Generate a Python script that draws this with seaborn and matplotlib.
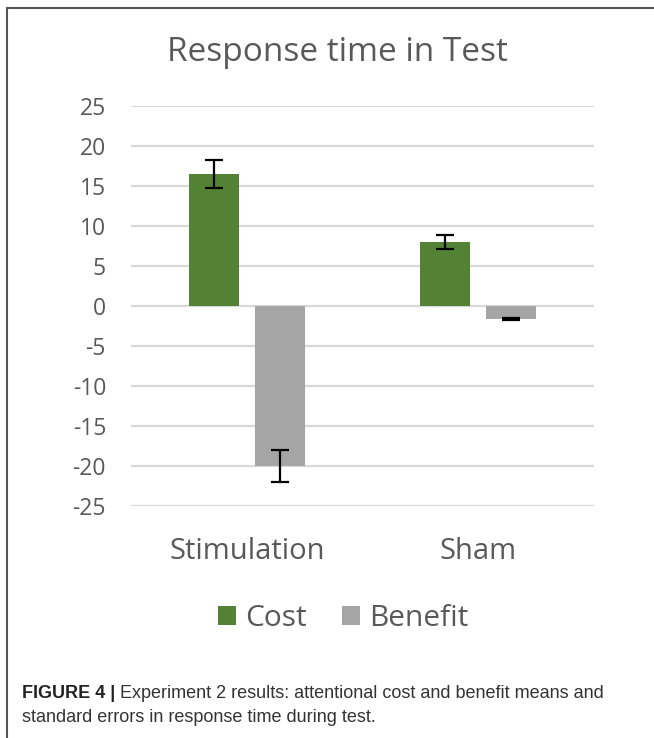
import matplotlib
matplotlib.use("Agg")
import matplotlib.pyplot as plt
from matplotlib.lines import Line2D
from matplotlib.patches import Patch
import seaborn as sns
import pandas as pd

categories = ["Stimulation", "Sham"]
series = ["Cost", "Benefit"]
cost_values = [16.5, 8.0]
benefit_values = [-20.0, -1.6]
cost_errors = [1.75, 0.85]
benefit_errors = [2.05, 0.1]
y_ticks = [25, 20, 15, 10, 5, 0, -5, -10, -15, -20, -25]
title_text = "Response time in Test"
caption_bold = "FIGURE 4 |"
caption_line1 = " Experiment 2 results: attentional cost and benefit means and"
caption_line2 = "standard errors in response time during test."

colors = {"Cost": "#548235", "Benefit": "#a5a5a5"}
text_color = "#595959"

df = pd.DataFrame({
    "group": categories * 2,
    "series": ["Cost"] * len(categories) + ["Benefit"] * len(categories),
    "value": cost_values + benefit_values,
})

sns.set_theme(style="white")
plt.rcParams["font.family"] = ["Open Sans", "DejaVu Sans"]
plt.rcParams["axes.unicode_minus"] = False

W, H = 654, 738
fig = plt.figure(figsize=(W / 100, H / 100), dpi=100)
fig.patch.set_facecolor("white")
ax = fig.add_axes([131 / W, 1 - 506 / H, 463 / W, 400 / H])

sns.barplot(data=df, x="group", y="value", hue="series", order=categories,
            hue_order=series, palette=colors, width=0.57, gap=0.245,
            errorbar=None, legend=False, ax=ax, saturation=1, linewidth=0)

errs = {"Cost": cost_errors, "Benefit": benefit_errors}
for cont, s in zip(ax.containers, series):
    xs = [p.get_x() + p.get_width() / 2 for p in cont.patches]
    ys = [p.get_y() + p.get_height() for p in cont.patches]
    ax.errorbar(xs, ys, yerr=errs[s], fmt="none", ecolor="black",
                elinewidth=1.6, capsize=6.5, capthick=1.6, zorder=5)

ax.set_ylim(-25, 25)
ax.set_yticks(y_ticks)
ax.set_xlim(-0.5, 1.5)
ax.yaxis.grid(True, color="#d9d9d9", linewidth=1.6)
ax.set_axisbelow(True)
for sp in ax.spines.values():
    sp.set_visible(False)
ax.set_xlabel("")
ax.set_ylabel("")
ax.tick_params(axis="y", length=0, pad=18, labelsize=16.5, labelcolor=text_color)
ax.tick_params(axis="x", length=0, pad=22, labelsize=21, labelcolor=text_color)

handles = [Patch(facecolor=colors[s], edgecolor="none", label=s) for s in series]
fig.legend(handles=handles, loc="center", bbox_to_anchor=(343 / W, 1 - 619 / H),
           ncol=2, frameon=False, fontsize=21.5, handlelength=0.6, handleheight=0.6,
           handletextpad=0.3, columnspacing=1.2, labelcolor=text_color)

fig.text(337 / W, 1 - 61 / H, title_text, ha="center", va="baseline",
         fontsize=24, color=text_color)

# caption
cap_fam = ["Liberation Sans", "DejaVu Sans"]
t1 = fig.text(22 / W, 1 - 694 / H, caption_bold, ha="left", va="center",
              fontsize=13, fontweight="bold", color="#222222", family=cap_fam)
fig.canvas.draw()
bb = t1.get_window_extent(renderer=fig.canvas.get_renderer())
fig.text(bb.x1 / W, 1 - 694 / H, caption_line1, ha="left", va="center",
         fontsize=13, color="#333333", family=cap_fam)
fig.text(22 / W, 1 - 718 / H, caption_line2, ha="left", va="center",
         fontsize=13, color="#333333", family=cap_fam)

# frame
fig.add_artist(Line2D([7 / W, 7 / W], [0, 1 - 8 / H], color="#555555", linewidth=1.5,
                      transform=fig.transFigure))
fig.add_artist(Line2D([7 / W, 1], [1 - 8 / H, 1 - 8 / H], color="#555555", linewidth=1.5,
                      transform=fig.transFigure))

fig.savefig("out.png", dpi=100, facecolor="white")
